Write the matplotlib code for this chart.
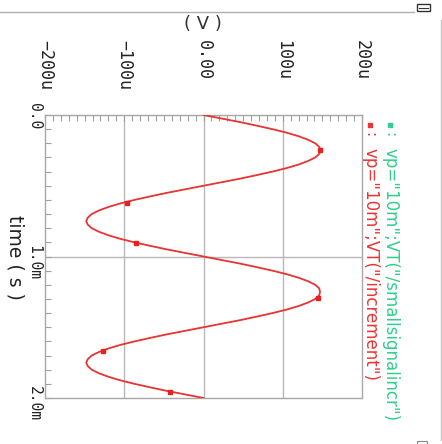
import numpy as np
import matplotlib.pyplot as plt
from matplotlib.lines import Line2D
from matplotlib.transforms import blended_transform_factory, offset_copy

# transient output, one sample every 25 us (time in ms, voltage in uV)
step_ms = 0.025
v_increment = [0, 23, 46, 67, 87, 105, 120, 132, 141, 146,
               148, 146, 141, 132, 120, 105, 87, 67, 46, 23,
               0, -23, -46, -67, -87, -105, -120, -132, -141, -146,
               -148, -146, -141, -132, -120, -105, -87, -67, -46, -23,
               0, 23, 46, 67, 87, 105, 120, 132, 141, 146,
               147, 146, 141, 132, 120, 105, 87, 67, 46, 23,
               0, -23, -46, -67, -87, -105, -120, -132, -141, -146,
               -148, -146, -141, -132, -120, -105, -87, -67, -46, -23, 0]
v_smallsignal = v_increment
time_ms = np.arange(len(v_increment)) * step_ms

# points flagged on the red trace
mark_t = [0.247, 0.622, 0.905, 1.293, 1.668, 1.958]
mark_v = [147, -97, -85, 145, -127, -42]

v_ticks = [-200, -100, 0, 100, 200]
v_labels = ["−200u", "−100u", "0.00", "100u", "200u"]
t_ticks = [0.0, 1.0, 2.0]
t_labels = ["0.0", "1.0m", "2.0m"]

legend = [('vp="10m";VT("/smallsignalincr")', "#2fcf8c"),
          ('vp="10m";VT("/increment")', "#ec3434")]

W, H = 442, 444
fig = plt.figure(figsize=(W / 100, H / 100), dpi=100)
ax = fig.add_axes([45 / W, 1 - 398 / H, (362 - 45) / W, (398 - 115) / H])

grid_c = "#b8b8b8"
for v in v_ticks[1:-1]:
    ax.axvline(v, color=grid_c, lw=1.0, zorder=1)
ax.axhline(1.0, color=grid_c, lw=1.0, zorder=1)

# the small-signal trace sits exactly under the red one
ax.plot(v_smallsignal, time_ms, color=legend[0][1], lw=0.5, zorder=2)
ax.plot(v_increment, time_ms, color=legend[1][1], lw=1.3, zorder=3)
ax.plot(mark_v, mark_t, ls="none", marker="s", ms=3, color="#e82020", zorder=4)

ax.set_xlim(-200, 200)
ax.set_ylim(2.0, 0.0)
for s in ax.spines.values():
    s.set_color("#a8a8a8")
    s.set_linewidth(1.0)

ax.xaxis.tick_top()
ax.set_xticks(np.arange(-200, 201, 10))
ax.set_yticks(np.arange(0, 2.001, 0.1))
ax.tick_params(direction="in", length=4, width=0.8, color="#a0a0a0",
               labeltop=False, labelleft=False, labelbottom=False)

mono = "DejaVu Sans Mono"
tr_v = blended_transform_factory(ax.transData, fig.transFigure)
for v, lab in zip(v_ticks, v_labels):
    ax.text(v, 1 - 40 / H, lab, transform=tr_v, rotation=270, ha="center",
            va="top", family=mono, fontsize=12, color="#222222")

tr_t = offset_copy(blended_transform_factory(fig.transFigure, ax.transData),
                   fig=fig, y=12, units="dots")
for t, lab in zip(t_ticks, t_labels):
    ax.text(34 / W, t, lab, transform=tr_t, rotation=270, ha="center",
            va="top", family=mono, fontsize=10.5, color="#222222")

fig.text(15 / W, 1 - 257 / H, "time ( s )", rotation=270, ha="center",
         va="center", fontsize=13.5, color="#222222")
fig.text(203 / W, 1 - 24 / H, "( V )", ha="center", va="center",
         fontsize=13, color="#333333")

# legend entries, written down the right-hand side
for (lab, col), x in zip(legend, [390, 370]):
    fig.add_artist(Line2D([x / W], [1 - 125 / H], marker="s", ms=3,
                          color=col, transform=fig.transFigure))
    fig.text(x / W, 1 - 132 / H, ":", rotation=270, ha="center", va="top",
             fontsize=11, color=col)
    fig.text(x / W, 1 - 148 / H, lab, rotation=270, ha="center", va="top",
             fontsize=12, color=col)

# window frame bits
fig.add_artist(Line2D([0, 414 / W], [1 - 12 / H] * 2, color="#b0b0b0",
                      lw=1.0, transform=fig.transFigure))
fig.add_artist(plt.Rectangle((417 / W, 1 - 11 / H), 13 / W, 7 / H, fill=False,
                             ec="#333333", lw=1.0, transform=fig.transFigure))
fig.add_artist(Line2D([419 / W, 428 / W], [1 - 8 / H] * 2, color="#333333",
                      lw=0.8, transform=fig.transFigure))
fig.add_artist(Line2D([441 / W] * 2, [1 - 20 / H, 1 - 440 / H], color="#c8c8c8",
                      lw=1.0, transform=fig.transFigure))
fig.add_artist(plt.Rectangle((417 / W, 0), 10 / W, 3 / H, fill=False,
                             ec="#888888", lw=0.8, transform=fig.transFigure))

fig.savefig("out.png", dpi=100)
